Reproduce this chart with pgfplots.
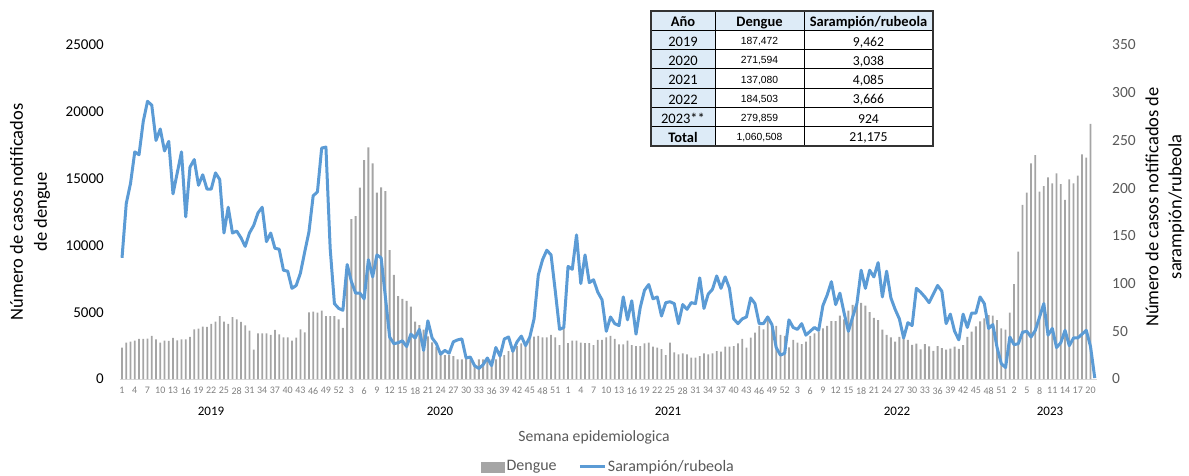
\documentclass[border=0pt]{standalone}
\usepackage{fontspec}
\setmainfont{Carlito}
\newfontfamily\arialf{Liberation Sans}
\usepackage{pgfplots}
\usepackage{pgfplotstable}
\pgfplotsset{compat=1.18}
\definecolor{bargray}{HTML}{A5A5A5}
\definecolor{lineblue}{HTML}{5B9BD5}
\definecolor{txtgray}{HTML}{595959}
\definecolor{tickgray}{HTML}{808080}
\definecolor{axgray}{HTML}{D9D9D9}
\definecolor{cellblue}{HTML}{DDEBF7}
\pgfplotsset{
  lineleg/.style={legend image code/.code={\draw[#1] (0pt,0pt) -- (15pt,0pt);}},
  barleg/.style={legend image code/.code={\fill[bargray] (0pt,-3pt) rectangle (13.8pt,3pt);}},
}

\pgfplotstableread{
i d s
0 2345 127
1 2720 184
2 2795 205
3 2870 238
4 2995 235
5 2995 270
6 3020 291
7 3220 287
8 2970 250
9 2720 262
10 2870 239
11 2845 249
12 3070 194
13 2895 216
14 2970 238
15 2970 170
16 3145 222
17 3720 230
18 3770 203
19 3920 214
20 3895 199
21 4120 199
22 4290 216
23 4715 209
24 4290 153
25 4120 180
26 4640 153
27 4470 155
28 4270 148
29 4020 139
30 3620 153
31 2195 161
32 3420 174
33 3420 180
34 3420 144
35 3295 153
36 3670 137
37 3345 136
38 3120 114
39 3120 113
40 2870 95
41 3095 98
42 3720 111
43 3495 133
44 4990 154
45 5040 192
46 4965 196
47 5115 242
48 4715 243
49 4715 137
50 4715 79
51 4470 74
52 3820 72
53 8500 120
54 11975 102
55 12200 90
56 14320 90
57 16390 84
58 17340 125
59 16140 107
60 13950 130
61 14350 127
62 14070 86
63 9655 44
64 7785 37
65 6210 38
66 5990 40
67 5840 34
68 5410 47
69 4290 43
70 4040 52
71 3700 30
72 3200 61
73 2750 43
74 2400 37
75 2045 26
76 1795 30
77 1795 27
78 1720 39
79 1470 41
80 1470 42
81 1720 22
82 1470 23
83 1050 14
84 1470 11
85 1470 15
86 1420 22
87 1470 14
88 1470 33
89 1670 24
90 1795 42
91 2095 44
92 2295 29
93 2470 39
94 2670 45
95 2720 35
96 3045 44
97 3170 63
98 3220 109
99 3120 125
100 3120 135
101 3295 130
102 3120 92
103 2545 52
104 3800 54
105 2695 118
106 2870 115
107 2870 151
108 2720 100
109 2695 130
110 2695 101
111 2545 104
112 2920 91
113 2920 83
114 3120 50
115 3220 65
116 2995 58
117 2595 56
118 2595 86
119 2870 62
120 2545 82
121 2470 47
122 2470 75
123 2670 93
124 2720 99
125 2420 84
126 2345 86
127 2245 66
128 1795 80
129 2720 81
130 1995 79
131 1845 58
132 1920 78
133 1845 73
134 1595 80
135 1595 79
136 1720 106
137 1920 74
138 1845 89
139 1920 94
140 2095 108
141 2045 95
142 2420 107
143 2420 95
144 2470 63
145 2670 58
146 2995 63
147 2345 65
148 3095 85
149 3470 79
150 3970 58
151 3720 58
152 4470 65
153 3970 57
154 3970 33
155 3295 25
156 3220 27
157 2370 62
158 2920 54
159 2720 52
160 2620 58
161 2795 46
162 3220 50
163 3420 54
164 3545 51
165 3795 77
166 3970 88
167 4340 102
168 4340 78
169 4740 90
170 4470 69
171 5115 50
172 5540 65
173 5665 79
174 5700 114
175 5500 95
176 5015 114
177 4580 107
178 4400 122
179 3700 86
180 3295 113
181 3120 85
182 2795 73
183 3150 63
184 3100 43
185 2920 59
186 2550 56
187 2640 95
188 2220 91
189 2620 86
190 2450 80
191 2100 89
192 2470 98
193 2320 92
194 2200 58
195 2280 68
196 2420 50
197 2250 41
198 2545 68
199 3145 54
200 3545 69
201 3945 69
202 4315 86
203 4540 79
204 4790 53
205 4750 57
206 4415 33
207 3795 16
208 3700 12
209 4965 44
210 7110 36
211 9530 37
212 13025 49
213 13950 50
214 16140 44
215 16765 51
216 14020 65
217 14445 79
218 15095 46
219 14645 53
220 15395 33
221 14595 38
222 13400 51
223 14945 35
224 14645 43
225 15220 43
226 16820 47
227 16565 51
228 19090 34
229 nan 1
}\datatable

\begin{document}
\begin{tikzpicture}[x=0.6pt,y=-0.6pt]
\useasboundingbox (0,0) rectangle (1189,475);

\begin{axis}[
  at={(71.94pt,-227.4pt)}, anchor=south west,
  scale only axis, width=586.2pt, height=200.4pt,
  xmin=-0.5, xmax=229.5, ymin=0, ymax=25000,
  axis line style={draw=none},
  major tick length=0pt,
  ytick={0,5000,...,25000},
  scaled y ticks=false,
  /pgf/number format/1000 sep={},
  /pgf/number format/assume math mode=true,
  yticklabel style={font=\fontsize{9}{10}\selectfont, text=black, inner sep=0pt, xshift=-9.5pt},
  xtick={0,3,...,228},
  xticklabels={1,4,7,10,13,16,19,22,25,28,31,34,37,40,43,46,49,52,
               3,6,9,12,15,18,21,24,27,30,33,36,39,42,45,48,51,
               1,4,7,10,13,16,19,22,25,28,31,34,37,40,43,46,49,52,
               3,6,9,12,15,18,21,24,27,30,33,36,39,42,45,48,51,
               2,5,8,11,14,17,20},
  xticklabel style={font=\fontsize{6}{7}\selectfont, text=tickgray, inner sep=0pt, yshift=-4.8pt},
  ybar, bar width=1.1pt,
  clip=false,
]
\draw[axgray, line width=0.6pt] (axis cs:-0.5,0) -- (axis cs:229.5,0);
\addplot[draw=none, fill=bargray] table[x=i,y=d]{\datatable};
\end{axis}

\begin{axis}[
  at={(71.94pt,-227.4pt)}, anchor=south west,
  scale only axis, width=586.2pt, height=200.4pt,
  xmin=-0.5, xmax=229.5, ymin=0, ymax=350,
  axis line style={draw=none},
  major tick length=0pt,
  xtick=\empty,
  ytick={0,50,...,350},
  yticklabel pos=right,
  /pgf/number format/assume math mode=true,
  yticklabel style={font=\fontsize{9.3}{10}\selectfont, text=txtgray, inner sep=0pt, xshift=9pt},
  clip=false,
  legend style={at={(0.5,-0.263)}, anchor=center, draw=none, fill=none,
    legend columns=2, font=\fontsize{9.6}{11}\selectfont, text=txtgray,
    nodes={inner sep=1pt},
    /tikz/every even column/.append style={column sep=12pt}},
]
\addlegendimage{barleg}
\addlegendentry{Dengue}
\addplot[lineblue, line width=1.8pt, line join=round, mark=none, lineleg]
  table[x=i,y=s]{\datatable};
\addlegendentry{Sarampión/rubeola}
\end{axis}

% axis titles
\node[rotate=90, align=center, font=\fontsize{11.1}{14.4}\selectfont, text=black] at (30,212)
  {Número de casos notificados\\de dengue};
\node[rotate=90, align=center, font=\fontsize{11.1}{13.8}\selectfont, text=black] at (1165,207)
  {Número de casos notificados de\\sarampión/rubeola};
\node[font=\fontsize{9.4}{11}\selectfont, text=txtgray] at (594,437) {Semana epidemiologica};

% year labels
\foreach \xx/\yr in {211/2019, 440/2020, 668/2021, 897/2022, 1050/2023}
  \node[font=\fontsize{7.8}{9}\selectfont, text=black] at (\xx,411) {\yr};

% summary table
\fill[cellblue] (651,11) rectangle (715,146);
\fill[cellblue] (715,11) rectangle (933,30.3);
\foreach \yy in {30.3,49.6,68.9,88.2,107.5,126.8}
  \draw[black, line width=0.6pt] (651,\yy) -- (933,\yy);
\draw[black, line width=0.6pt] (715,11) -- (715,146);
\draw[black, line width=0.6pt] (804,11) -- (804,146);
\draw[black!80, line width=0.9pt] (651,11) rectangle (933,146);

\begin{scope}[every node/.style={inner sep=0pt, anchor=base}]
\node[font=\bfseries\fontsize{8.7}{10}\selectfont] at (683,26.3) {Año};
\node[font=\bfseries\fontsize{8.7}{10}\selectfont] at (759.5,26.3) {Dengue};
\node[font=\bfseries\fontsize{8.7}{10}\selectfont] at (868.5,26.3) {Sarampión/rubeola};
\foreach \yy/\yr/\dn/\sr in {46.3/2019/187{,}472/9{,}462, 65.6/2020/271{,}594/3{,}038,
    84.9/2021/137{,}080/4{,}085, 104.2/2022/184{,}503/3{,}666, 123.5/2023**/279{,}859/924}{
  \node[font=\fontsize{8.7}{10}\selectfont] at (683,\yy) {\yr};
  \node[font=\arialf\fontsize{6.2}{7}\selectfont] at (759.5,\yy-1.9) {\dn};
  \node[font=\fontsize{8.2}{10}\selectfont] at (868.5,\yy-0.3) {\sr};
}
\node[font=\bfseries\fontsize{8.7}{10}\selectfont] at (683,142.2) {Total};
\node[font=\arialf\fontsize{6.2}{7}\selectfont] at (759.5,140.3) {1,060,508};
\node[font=\fontsize{8.2}{10}\selectfont] at (868.5,141.9) {21,175};
\end{scope}

\end{tikzpicture}
\end{document}
